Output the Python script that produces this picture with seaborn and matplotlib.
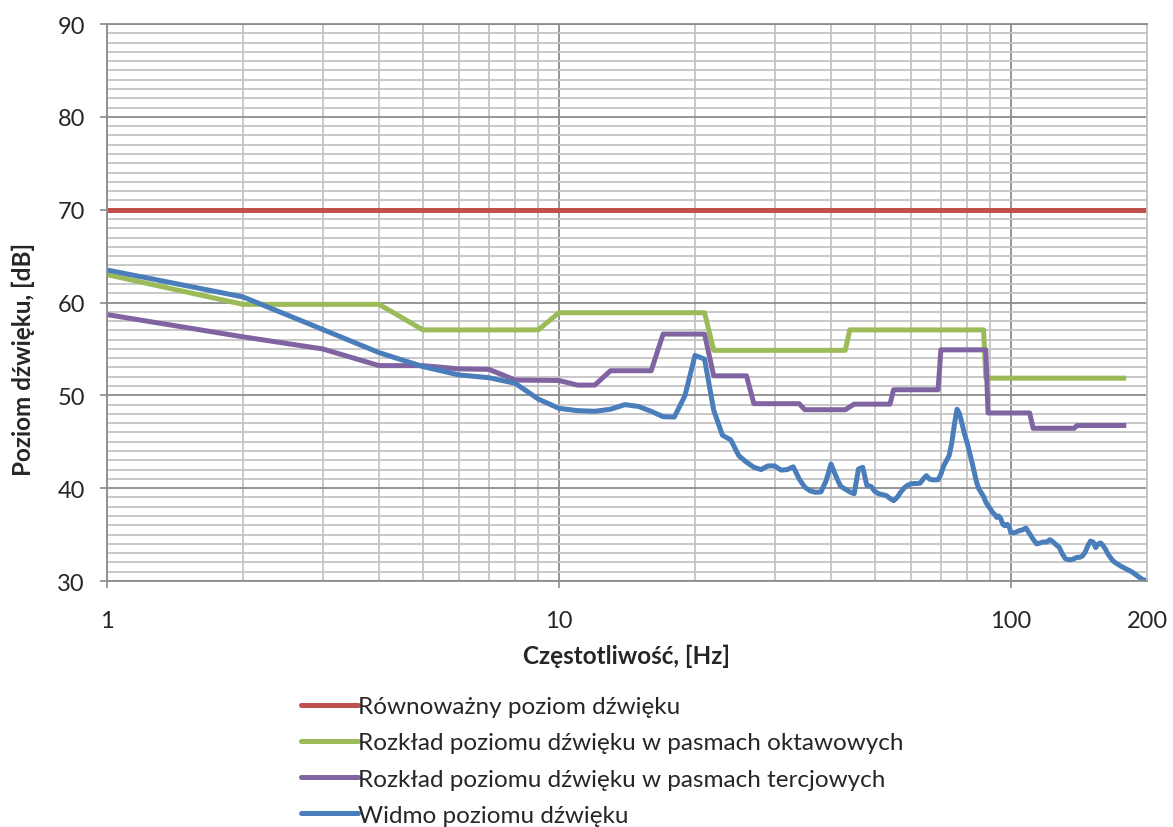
import matplotlib
matplotlib.use("Agg")
import matplotlib.pyplot as plt
import seaborn as sns
import pandas as pd

# --- data -------------------------------------------------------------
leq_freq = [1, 200]
leq_level = [70, 70]

oct_freq = [1, 2, 4, 5, 9, 10, 21, 22, 43, 44, 87, 88, 180]
oct_level = [63.0, 59.8, 59.8, 57.05, 57.05, 58.9, 58.9, 54.85, 54.85,
             57.05, 57.05, 51.85, 51.85]

third_freq = [1, 2, 3, 4, 5, 6, 7, 8, 10, 11, 12, 13, 16, 17, 21, 22, 26,
              27, 34, 35, 43, 45, 54, 55, 69, 70, 88, 89, 110, 112, 138,
              140, 180]
third_level = [58.7, 56.3, 55.0, 53.2, 53.2, 52.85, 52.8, 51.65, 51.6,
               51.1, 51.1, 52.65, 52.65, 56.6, 56.6, 52.1, 52.1, 49.1,
               49.1, 48.45, 48.45, 49.05, 49.05, 50.6, 50.6, 54.9, 54.9,
               48.1, 48.1, 46.45, 46.45, 46.75, 46.75]

spec_freq = [1, 2, 3, 4, 5, 6, 7, 8, 9, 10,
             11, 12, 13, 14, 15, 16, 17, 18, 19, 20,
             21, 22, 23, 24, 25, 26, 27, 28, 29, 30,
             31, 32, 33, 34, 35, 36, 37, 38, 39, 40,
             41, 42, 43, 44, 45, 46, 47, 48, 49, 50,
             51, 52, 53, 54, 55, 56, 57, 58, 59, 60,
             61, 62, 63, 64, 65, 66, 67, 68, 69, 70,
             71, 72, 73, 74, 75, 76, 77, 78, 79, 80,
             81, 82, 83, 84, 85, 86, 87, 88, 89, 90,
             91, 92, 93, 94, 95, 96, 97, 98, 99, 100,
             102, 104, 106, 108, 110, 112, 114, 116, 118, 120,
             122, 124, 126, 128, 130, 132, 134, 136, 138, 140,
             142, 144, 146, 148, 150, 152, 154, 156, 158, 160,
             162, 164, 166, 168, 170, 175, 180, 185, 190, 195, 200]
spec_level = [63.5, 60.6, 57.1, 54.6, 53.1, 52.2, 51.9, 51.3, 49.6, 48.6,
              48.35, 48.28, 48.5, 49.0, 48.8, 48.28, 47.7, 47.66, 49.96, 54.3,
              53.9, 48.4, 45.7, 45.2, 43.5, 42.8, 42.25, 42.0, 42.4, 42.4,
              41.95, 42.0, 42.3, 41.0, 40.1, 39.7, 39.55, 39.6, 40.8, 42.6,
              41.3, 40.2, 39.9, 39.6, 39.4, 42.06, 42.25, 40.3, 40.2, 39.65,
              39.4, 39.3, 39.2, 38.9, 38.65, 39.0, 39.55, 40.0, 40.3, 40.45,
              40.5, 40.5, 40.55, 41.0, 41.35, 41.0, 40.9, 40.9, 40.9, 41.5,
              42.4, 42.96, 43.5, 44.9, 46.9, 48.5, 48.0, 46.9, 45.8, 44.9,
              43.85, 42.8, 41.7, 40.6, 39.9, 39.5, 39.1, 38.5, 38.1, 37.8,
              37.4, 37.2, 36.85, 37.0, 36.7, 36.1, 35.95, 36.1, 35.95, 35.2,
              35.2, 35.4, 35.5, 35.7, 35.1, 34.5, 34.0, 34.1, 34.2, 34.2,
              34.45, 34.2, 33.9, 33.6, 32.9, 32.4, 32.3, 32.3, 32.4, 32.55,
              32.55, 32.7, 33.1, 33.8, 34.3, 34.2, 33.6, 34.0, 34.1, 33.8,
              33.4, 32.9, 32.55, 32.2, 32.0, 31.6, 31.3, 31.0, 30.6, 30.2, 30.0]

series_names = [
    "Równoważny poziom dźwięku",
    "Rozkład poziomu dźwięku w pasmach oktawowych",
    "Rozkład poziomu dźwięku w pasmach tercjowych",
    "Widmo poziomu dźwięku",
]
series_colors = ["#C0504D", "#9BBB59", "#8064A2", "#4A7EBB"]

x_tick_values = [1, 10, 100]
x_tick_labels = ["1", "10", "100"]
y_tick_values = [30, 40, 50, 60, 70, 80, 90]

# --- long-form table --------------------------------------------------
frames = []
for name, fx, fy in zip(series_names,
                        [leq_freq, oct_freq, third_freq, spec_freq],
                        [leq_level, oct_level, third_level, spec_level]):
    frames.append(pd.DataFrame({"freq": fx, "level": fy, "series": name}))
df = pd.concat(frames, ignore_index=True)

# --- figure -----------------------------------------------------------
sns.set_theme(style="white")
plt.rcParams["font.family"] = ["Lato", "DejaVu Sans"]

fig = plt.figure(figsize=(11.73, 8.28), dpi=100)
ax = fig.add_axes([0.0912, 0.2971, 0.8866, 0.6727])

sns.lineplot(data=df, x="freq", y="level", hue="series",
             hue_order=series_names, palette=series_colors,
             estimator=None, sort=False, linewidth=3.6, ax=ax,
             solid_capstyle="butt", legend=False)

ax.set_xscale("log")
ax.set_xlim(1, 200)
ax.set_ylim(30, 90)

# ticks and grid
ax.set_xticks(x_tick_values)
ax.set_xticklabels(x_tick_labels)
minor_x = [2, 3, 4, 5, 6, 7, 8, 9, 20, 30, 40, 50, 60, 70, 80, 90, 200]
ax.set_xticks(minor_x, minor=True)
ax.set_xticklabels(["" if v != 200 else "200" for v in minor_x], minor=True)
ax.set_yticks(y_tick_values)
ax.set_yticks(range(30, 91), minor=True)

ax.grid(which="minor", color="#C4C4C4", linewidth=1.3)
ax.grid(which="major", color="#8C8C8C", linewidth=1.3)
ax.set_axisbelow(True)

tick_fs = 17
ax.tick_params(axis="x", which="major", direction="out", length=5,
               width=1.2, color="#8C8C8C", pad=16, labelsize=tick_fs,
               bottom=True)
ax.tick_params(axis="x", which="minor", length=0, pad=21, labelsize=tick_fs,
               bottom=True)
ax.tick_params(axis="y", which="major", direction="out", length=5,
               width=1.2, color="#8C8C8C", pad=11, labelsize=tick_fs,
               left=True)
ax.tick_params(axis="y", which="minor", length=0)

for side in ["left", "bottom", "top"]:
    ax.spines[side].set_color("#8C8C8C")
    ax.spines[side].set_linewidth(1.3)
ax.spines["right"].set_color("#C4C4C4")
ax.spines["right"].set_linewidth(1.3)

ax.set_xlabel("Częstotliwość, [Hz]", fontsize=17.5, fontweight="bold",
              labelpad=9)
ax.set_ylabel("Poziom dźwięku, [dB]", fontsize=17.5, fontweight="bold")
ax.yaxis.set_label_coords(-0.0695, 0.40)

# legend below the axes
handles = [plt.Line2D([], [], color=c, linewidth=3.6) for c in series_colors]
fig.legend(handles, series_names, loc="upper left",
           bbox_to_anchor=(0.248, 0.1695), frameon=False, fontsize=17.5,
           handlelength=2.35, handletextpad=0.0, labelspacing=0.62,
           borderaxespad=0)

fig.savefig("out.png", dpi=100)
